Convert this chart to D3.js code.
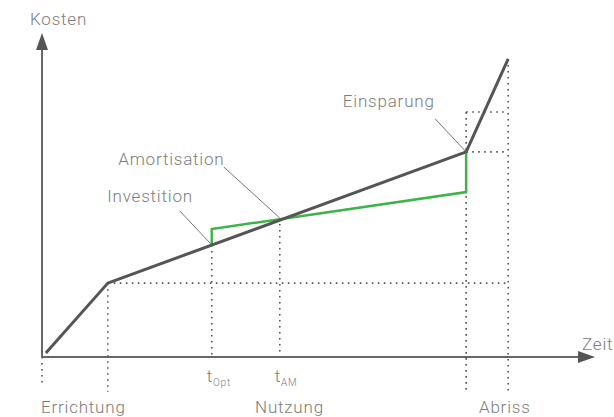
<!DOCTYPE html>
<html>
<head>
<meta charset="utf-8">
<script src="https://cdn.jsdelivr.net/npm/d3@7"></script>
<style>
  body { margin: 0; background: #fff; }
  text, tspan { font-family: Roboto, "Open Sans", sans-serif; font-weight: 300; fill: #7d7d7d; letter-spacing: 0.8px; }
</style>
</head>
<body>
<div id="chart"></div>
<script>
// time / cost in relative units (0..100 on both axes)
const costLine = [[0.7, 1.2], [11.9, 22.8], [76.7, 63.3], [84.3, 92.0]];
const investLine = [[30.7, 34.6], [30.7, 39.5], [76.7, 50.9], [76.7, 63.3]];

// dotted guide lines [x1, y1, x2, y2]
const guides = [
    [11.9, 22.8, 84.3, 22.8],
    [11.9, 22.8, 11.9, -10.8],
    [30.7, 34.6, 30.7, 0],
    [43.0, 42.9, 43.0, 0],
    [76.7, 75.6, 76.7, -10.8],
    [84.3, 92.0, 84.3, -10.8],
    [76.7, 75.6, 84.3, 75.6],
    [76.7, 63.3, 84.3, 63.3],
    [0, 0, 0, -8.6]
];

const phases = ["Errichtung", "Nutzung", "Abriss"];
const phaseX = [0, 38.7, 79.2];

const timeMarks = [{t: "t", sub: "Opt", x: 30.7}, {t: "t", sub: "AM", x: 43.0}];

// annotations: label, text position, leader line start, target point
const notes = [
    {label: "Einsparung", tx: 54.4, ty: 77.2, lx: 71.1, ly: 73.5, px: 76.7, py: 63.3},
    {label: "Amortisation", tx: 13.8, ty: 59.3, lx: 32.9, ly: 58.6, px: 43.0, py: 42.9},
    {label: "Investition", tx: 11.8, ty: 47.8, lx: 24.9, ly: 45.1, px: 30.7, py: 34.6}
];

const width = 614, height = 417;

const svg = d3.select("#chart").append("svg")
    .attr("width", width)
    .attr("height", height);

const x = d3.scaleLinear().domain([0, 100]).range([42, 595]);
const y = d3.scaleLinear().domain([0, 100]).range([357, 33]);

//dotted guides
svg.append("g")
    .selectAll("line")
    .data(guides)
    .enter()
    .append("line")
    .attr("x1", d => x(d[0]))
    .attr("y1", d => y(d[1]))
    .attr("x2", d => x(d[2]))
    .attr("y2", d => y(d[3]))
    .attr("stroke", "#555")
    .attr("stroke-width", 1.6)
    .attr("stroke-dasharray", "1.6,4.4");

//axes with arrow heads
svg.append("line")
    .attr("x1", x(0)).attr("y1", y(0))
    .attr("x2", x(0)).attr("y2", y(95))
    .attr("stroke", "#666").attr("stroke-width", 2);
svg.append("line")
    .attr("x1", x(0)).attr("y1", y(0))
    .attr("x2", x(97)).attr("y2", y(0))
    .attr("stroke", "#666").attr("stroke-width", 2);
svg.append("path")
    .attr("d", `M${x(0)},${y(100)} L${x(0) - 6},${y(100) + 17} L${x(0) + 6},${y(100) + 17} Z`)
    .attr("fill", "#555");
svg.append("path")
    .attr("d", `M${x(100)},${y(0)} L${x(100) - 17},${y(0) - 6} L${x(100) - 17},${y(0) + 6} Z`)
    .attr("fill", "#555");

const line = d3.line().x(d => x(d[0])).y(d => y(d[1]));

svg.append("path")
    .datum(investLine)
    .attr("d", line)
    .attr("fill", "none")
    .attr("stroke", "#3db34a")
    .attr("stroke-width", 2.5);

svg.append("path")
    .datum(costLine)
    .attr("d", line)
    .attr("fill", "none")
    .attr("stroke", "#555")
    .attr("stroke-width", 3)
    .attr("stroke-linejoin", "round");

//annotation leaders + labels
notes.forEach(n => {
    svg.append("line")
        .attr("x1", x(n.lx)).attr("y1", y(n.ly))
        .attr("x2", x(n.px)).attr("y2", y(n.py))
        .attr("stroke", "#666").attr("stroke-width", 0.9);
    svg.append("text")
        .attr("x", x(n.tx)).attr("y", y(n.ty))
        .attr("font-size", 17)
        .text(n.label);
});

//axis titles
svg.append("text").attr("x", 30).attr("y", 25).attr("font-size", 17).text("Kosten");
svg.append("text").attr("x", 582).attr("y", 350).attr("font-size", 17).text("Zeit");

//phase labels
svg.selectAll(".phase")
    .data(phases)
    .enter()
    .append("text")
    .attr("class", "phase")
    .attr("x", (d, i) => x(phaseX[i]) - 1)
    .attr("y", 413)
    .attr("font-size", 17)
    .text(d => d);

//time marks with subscript
timeMarks.forEach(m => {
    const t = svg.append("text")
        .attr("x", x(m.x) - 5)
        .attr("y", 382)
        .attr("font-size", 17);
    t.append("tspan").text(m.t);
    t.append("tspan").attr("font-size", 10).attr("dy", 4).text(m.sub);
});
</script>
</body>
</html>
